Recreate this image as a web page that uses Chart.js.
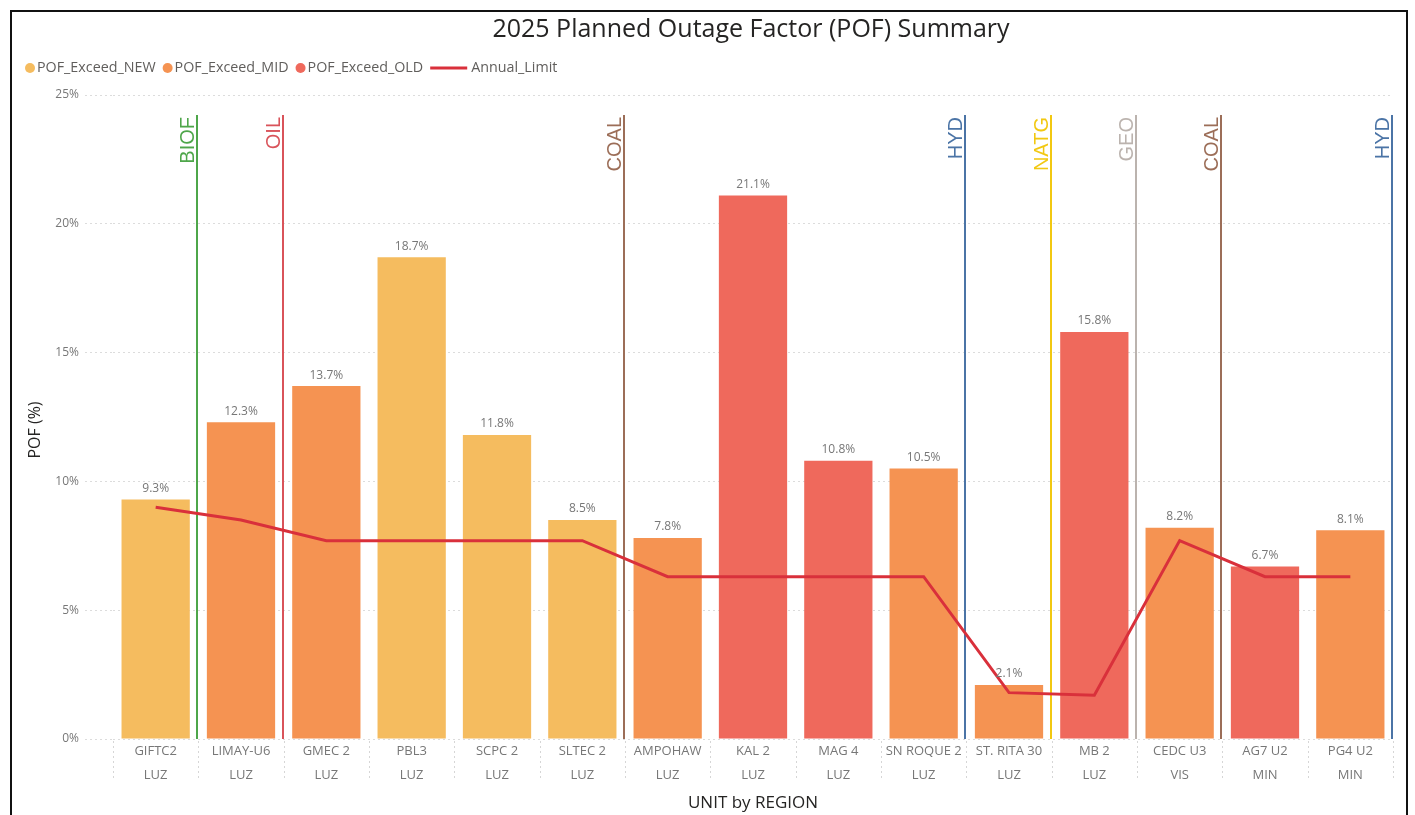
<!DOCTYPE html>
<html>
<head>
<meta charset="utf-8">
<script src="https://cdn.jsdelivr.net/npm/chart.js@4.4.1/dist/chart.umd.min.js"></script>
<style>
body{margin:0;background:#fff;overflow:hidden;}
#frame{position:absolute;left:10px;top:10px;width:1394px;height:805px;border:2px solid #111;border-bottom:none;}
canvas{display:block;}
</style>
</head>
<body>
<div id="frame"><canvas id="pofChart" width="1394" height="803"></canvas></div>
<script>
// DATA
const units=["GIFTC2","LIMAY-U6","GMEC 2","PBL3","SCPC 2","SLTEC 2","AMPOHAW","KAL 2","MAG 4","SN ROQUE 2","ST. RITA 30","MB 2","CEDC U3","AG7 U2","PG4 U2"];
const regions=["LUZ","LUZ","LUZ","LUZ","LUZ","LUZ","LUZ","LUZ","LUZ","LUZ","LUZ","LUZ","VIS","MIN","MIN"];
const pofNew=[9.3,null,null,18.7,11.8,8.5,null,null,null,null,null,null,null,null,null];
const pofMid=[null,12.3,13.7,null,null,null,7.8,null,null,10.5,2.1,null,8.2,null,8.1];
const pofOld=[null,null,null,null,null,null,null,21.1,10.8,null,null,15.8,null,6.7,null];
const annualLimit=[9.0,8.5,7.7,7.7,7.7,7.7,6.3,6.3,6.3,6.3,1.8,1.7,7.7,6.3,6.3];
const yTicks=[0,5,10,15,20,25];
// fuel groups: label and the last unit index of each group
const fuelLabels=["BIOF","OIL","COAL","HYD","NATG","GEO","COAL","HYD"];
const fuelLastIndex=[0,1,5,9,10,11,12,14];

const fuelColors={BIOF:"#4ea64a",OIL:"#d9535a",COAL:"#9c6e58",HYD:"#4b74a6",NATG:"#f2c811",GEO:"#bbb3ae"};
const FONT="'Open Sans', 'Noto Sans', sans-serif";

// FUEL LINES
const fuelLines={
  id:"fuelLines",
  beforeDatasetsDraw(chart){
    const ctx=chart.ctx, x=chart.scales.x, area=chart.chartArea;
    const half=(x.getPixelForValue(1)-x.getPixelForValue(0))/2;
    ctx.save();
    fuelLabels.forEach((lab,i)=>{
      const px=Math.round(x.getPixelForValue(fuelLastIndex[i])+half)-1;
      const top=area.top+20;
      ctx.strokeStyle=fuelColors[lab];
      ctx.lineWidth=2;
      ctx.beginPath();ctx.moveTo(px,top);ctx.lineTo(px,area.bottom);ctx.stroke();
      ctx.save();
      ctx.translate(px-3,top+2);
      ctx.rotate(-Math.PI/2);
      ctx.fillStyle=fuelColors[lab];
      ctx.font="20px 'Liberation Sans', Arial, sans-serif";
      ctx.textAlign="right";ctx.textBaseline="alphabetic";
      ctx.fillText(lab,0,0);
      ctx.restore();
    });
    ctx.restore();
  }
};

// BAR LABELS + AXIS SEPARATORS + LEGEND + TITLES
const extras={
  id:"extras",
  afterDatasetsDraw(chart){
    const ctx=chart.ctx;
    ctx.save();
    ctx.font="12px "+FONT;ctx.fillStyle="#777";
    ctx.textAlign="center";ctx.textBaseline="bottom";
    [0,1,2].forEach(d=>{
      chart.getDatasetMeta(d).data.forEach((bar,i)=>{
        const v=chart.data.datasets[d].data[i];
        if(v===null)return;
        ctx.fillText(v.toFixed(1)+"%",bar.x,bar.y-5);
      });
    });
    ctx.restore();
  },
  afterDraw(chart){
    const ctx=chart.ctx, x=chart.scales.x, area=chart.chartArea;
    const half=(x.getPixelForValue(1)-x.getPixelForValue(0))/2;
    ctx.save();
    // dotted separators under the axis
    ctx.strokeStyle="#d6d6d6";ctx.lineWidth=1;ctx.setLineDash([2,3]);
    for(let i=0;i<=units.length;i++){
      const px=Math.round(x.getPixelForValue(0)-half+i*half*2)+0.5;
      ctx.beginPath();ctx.moveTo(px,area.bottom+2);ctx.lineTo(px,area.bottom+42);ctx.stroke();
    }
    ctx.setLineDash([]);
    // title
    ctx.fillStyle="#252423";ctx.font="25px "+FONT;
    ctx.textAlign="center";ctx.textBaseline="middle";
    ctx.fillText("2025 Planned Outage Factor (POF) Summary",739,18);
    // y axis title
    ctx.save();
    ctx.translate(23,418);ctx.rotate(-Math.PI/2);
    ctx.font="16px "+FONT;
    ctx.fillText("POF (%)",0,0);
    ctx.restore();
    // legend
    ctx.font="14.3px "+FONT;ctx.textAlign="left";
    let lx=13; const ly=56;
    chart.data.datasets.forEach(ds=>{
      if(ds.type==="line"){
        ctx.strokeStyle=ds.borderColor;ctx.lineWidth=3;
        ctx.beginPath();ctx.moveTo(lx,ly);ctx.lineTo(lx+37,ly);ctx.stroke();
        lx+=41;
      } else {
        ctx.fillStyle=ds.backgroundColor;
        ctx.beginPath();ctx.arc(lx+5,ly,5,0,Math.PI*2);ctx.fill();
        lx+=12;
      }
      ctx.fillStyle="#605e5c";
      ctx.fillText(ds.label,lx,ly);
      lx+=ctx.measureText(ds.label).width+7;
    });
    ctx.restore();
  }
};

// CHART
new Chart(document.getElementById("pofChart"),{
  data:{
    labels:units.map((u,i)=>[u,regions[i]]),
    datasets:[
      {type:"bar",label:"POF_Exceed_NEW",data:pofNew,backgroundColor:"#f5bc5f",grouped:false,order:1},
      {type:"bar",label:"POF_Exceed_MID",data:pofMid,backgroundColor:"#f59352",grouped:false,order:1},
      {type:"bar",label:"POF_Exceed_OLD",data:pofOld,backgroundColor:"#ef695c",grouped:false,order:1},
      {type:"line",label:"Annual_Limit",data:annualLimit,borderColor:"#d9303b",borderWidth:3,pointRadius:0,tension:0,order:0}
    ]
  },
  options:{
    responsive:false,
    animation:false,
    layout:{padding:{top:83,left:9,right:13,bottom:0}},
    datasets:{bar:{categoryPercentage:1,barPercentage:0.8}},
    plugins:{legend:{display:false},title:{display:false},tooltip:{enabled:false}},
    scales:{
      x:{
        grid:{display:false,drawTicks:false},
        border:{display:false},
        ticks:{color:"#777",font:{family:FONT,size:13,lineHeight:1.8},padding:1,maxRotation:0,autoSkip:false},
        title:{display:true,text:"UNIT by REGION",color:"#252423",font:{family:FONT,size:17},padding:{top:4,bottom:2}},
        afterFit:s=>{s.height=76;}
      },
      y:{
        min:0,max:25,
        afterBuildTicks:s=>{s.ticks=yTicks.map(v=>({value:v}));},
        grid:{color:"#dcdcdc",borderDash:[2,3],tickLength:28,tickBorderDash:[2,3],tickColor:"#dcdcdc"},
        border:{display:false,dash:[2,3]},
        ticks:{color:"#777",font:{family:FONT,size:12},padding:6,callback:v=>v+"%"},
        afterFit:s=>{s.width=92;}
      }
    }
  },
  plugins:[fuelLines,extras]
});
</script>
</body>
</html>
